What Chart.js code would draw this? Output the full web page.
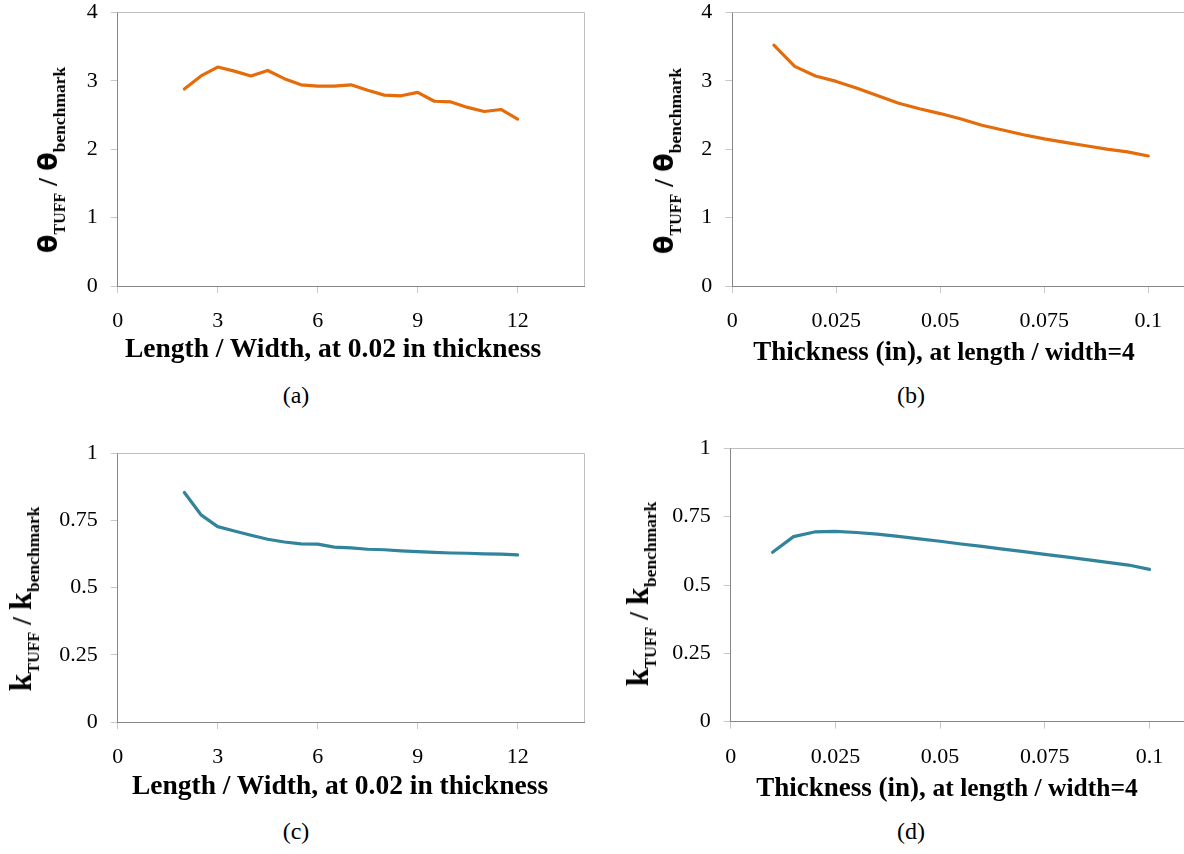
<!DOCTYPE html>
<html><head><meta charset="utf-8">
<script src="https://cdn.jsdelivr.net/npm/chart.js"></script>
<style>
html,body{margin:0;padding:0;width:1184px;height:854px;overflow:hidden;background:#fff;}
canvas{position:absolute;}
.t{position:absolute;white-space:nowrap;font-family:'Liberation Serif','Times New Roman',serif;color:#000;line-height:1;z-index:2;}
.xt{font-weight:bold;font-size:27.5px;transform:translateX(-50%);}
.xt .sm{font-size:25.5px;}
.cap{font-size:24px;transform:translateX(-50%);}
.yt{font-weight:bold;font-size:28px;line-height:30px;transform:translate(-50%,-50%) rotate(-90deg);}
.yt .g{font-family:'DejaVu Sans',sans-serif;font-size:27px;line-height:30px;}
.yt .k{font-size:32px;line-height:30px;}
.yt sub{vertical-align:baseline;position:relative;top:8px;line-height:30px;}
.yt sub.s1{font-size:16px;}
.yt sub.s2{font-size:17.5px;}
</style>
</head><body>
<canvas id="ca" width="600" height="345" style="left:0;top:0"></canvas>
<canvas id="cb" width="620" height="345" style="left:600px;top:0"></canvas>
<canvas id="cc" width="600" height="345" style="left:0;top:430px"></canvas>
<canvas id="cd" width="620" height="345" style="left:600px;top:430px"></canvas>

<div class="t yt" style="left:50px;top:160px"><span class="g">θ</span><sub class="s1">TUFF</sub> / <span class="g">θ</span><sub class="s2">benchmark</sub></div>
<div class="t yt" style="left:666px;top:161px"><span class="g">θ</span><sub class="s1">TUFF</sub> / <span class="g">θ</span><sub class="s2">benchmark</sub></div>
<div class="t yt" style="left:22.5px;top:599px"><span class="k">k</span><sub class="s1">TUFF</sub> / <span class="k">k</span><sub class="s2">benchmark</sub></div>
<div class="t yt" style="left:639.5px;top:594px"><span class="k">k</span><sub class="s1">TUFF</sub> / <span class="k">k</span><sub class="s2">benchmark</sub></div>

<div class="t xt" style="left:333px;top:334px">Length / Width, at 0.02 in thickness</div>
<div class="t xt" style="left:944px;top:338.4px;font-size:27px">Thickness (in), <span class="sm">at length / width=4</span></div>
<div class="t xt" style="left:340px;top:771px">Length / Width, at 0.02 in thickness</div>
<div class="t xt" style="left:947px;top:774.4px;font-size:27px">Thickness (in), <span class="sm">at length / width=4</span></div>

<div class="t cap" style="left:296px;top:383px">(a)</div>
<div class="t cap" style="left:911px;top:383px">(b)</div>
<div class="t cap" style="left:296px;top:819px">(c)</div>
<div class="t cap" style="left:911px;top:819px">(d)</div>

<script>
// ---- data ----
const lwA = [2,2.5,3,3.5,4,4.5,5,5.5,6,6.5,7,7.5,8,8.5,9,9.5,10,10.5,11,11.5,12];
const thetaA = [2.88,3.07,3.20,3.14,3.07,3.15,3.03,2.94,2.92,2.92,2.94,2.86,2.79,2.78,2.83,2.70,2.69,2.61,2.55,2.58,2.44];

const thickB = [0.01,0.015,0.02,0.025,0.03,0.035,0.04,0.045,0.05,0.055,0.06,0.065,0.07,0.075,0.08,0.085,0.09,0.095,0.1];
const thetaB = [3.52,3.21,3.07,2.99,2.89,2.78,2.67,2.59,2.52,2.44,2.35,2.28,2.21,2.15,2.10,2.05,2.00,1.96,1.90];

const lwC = [2,2.5,3,3.5,4,4.5,5,5.5,6,6.5,7,7.5,8,8.5,9,9.5,10,10.5,11,11.5,12];
const kC = [0.854,0.771,0.727,0.711,0.695,0.680,0.670,0.663,0.662,0.651,0.648,0.643,0.641,0.637,0.634,0.631,0.629,0.628,0.626,0.625,0.622];

const thickD = [0.01,0.015,0.02,0.025,0.03,0.035,0.04,0.045,0.05,0.055,0.06,0.065,0.07,0.075,0.08,0.085,0.09,0.095,0.1];
const kD = [0.620,0.677,0.694,0.696,0.692,0.686,0.678,0.669,0.660,0.650,0.641,0.631,0.622,0.612,0.603,0.593,0.583,0.573,0.557];

const xTicksLW = [0,3,6,9,12];
const xLabelsLW = ['0','3','6','9','12'];
const xTicksTh = [0,0.025,0.05,0.075,0.1];
const xLabelsTh = ['0','0.025','0.05','0.075','0.1'];
const yTicksTheta = [0,1,2,3,4];
const yLabelsTheta = ['0','1','2','3','4'];
const yTicksK = [0,0.25,0.5,0.75,1];
const yLabelsK = ['0','0.25','0.5','0.75','1'];

const ORANGE = '#E46C0A';
const TEAL = '#31849B';

// ---- plot frame (top and right border) ----
const frame = {
  id: 'frame',
  beforeDatasetsDraw(chart) {
    const {ctx, chartArea: a} = chart;
    const t = Math.floor(a.top) + 0.5;
    const r = Math.floor(a.right) + 0.5;
    ctx.save();
    ctx.strokeStyle = '#bfbfbf';
    ctx.lineWidth = 1;
    ctx.beginPath();
    ctx.moveTo(a.left, t);
    ctx.lineTo(r, t);
    ctx.lineTo(r, a.bottom);
    ctx.stroke();
    ctx.restore();
  }
};

function makeChart(id, xs, ys, color, xr, yr, box) {
  const tickFont = {family: "'Liberation Serif', 'Times New Roman', serif", size: 22};
  return new Chart(document.getElementById(id).getContext('2d'), {
    type: 'line',
    data: {
      datasets: [{
        data: xs.map((x, i) => ({x: x, y: ys[i]})),
        borderColor: color,
        borderWidth: 3.2,
        pointRadius: 0,
        tension: 0,
        fill: false,
        borderJoinStyle: 'round',
        borderCapStyle: 'round'
      }]
    },
    options: {
      responsive: false,
      animation: false,
      devicePixelRatio: 1,
      layout: {padding: {top: box.top, right: box.w - box.right, left: 0, bottom: 0}},
      plugins: {legend: {display: false}, tooltip: {enabled: false}},
      scales: {
        x: {
          type: 'linear', min: xr.min, max: xr.max,
          afterBuildTicks: s => { s.ticks = xr.ticks.map(v => ({value: v})); },
          afterFit: s => { s.height = box.h - box.bottom; s.paddingLeft = 0; s.paddingRight = 0; },
          ticks: {callback: (v, i) => xr.labels[i], autoSkip: false, maxRotation: 0, minRotation: 0, padding: 15, color: '#000', font: tickFont},
          grid: {drawOnChartArea: false, drawTicks: true, tickLength: 7, color: '#c8c8c8'},
          border: {display: true, color: '#868686', width: 1}
        },
        y: {
          type: 'linear', min: yr.min, max: yr.max,
          afterBuildTicks: s => { s.ticks = yr.ticks.map(v => ({value: v})); },
          afterFit: s => { s.width = box.left; s.paddingTop = 0; s.paddingBottom = 0; },
          ticks: {callback: (v, i) => yr.labels[i], autoSkip: false, padding: 13, color: '#000', font: tickFont},
          grid: {drawOnChartArea: false, drawTicks: true, tickLength: 7, color: '#c8c8c8'},
          border: {display: true, color: '#868686', width: 1}
        }
      }
    },
    plugins: [frame]
  });
}

const xLW = {min: 0, max: 14, ticks: xTicksLW, labels: xLabelsLW};
const xTh = {min: 0, max: 0.1125, ticks: xTicksTh, labels: xLabelsTh};
const yTheta = {min: 0, max: 4, ticks: yTicksTheta, labels: yLabelsTheta};
const yK = {min: 0, max: 1, ticks: yTicksK, labels: yLabelsK};

makeChart('ca', lwA, thetaA, ORANGE, xLW, yTheta, {w: 600, h: 345, left: 117.7, top: 12.3, right: 584.3, bottom: 286});
makeChart('cb', thickB, thetaB, ORANGE, xTh, yTheta, {w: 620, h: 345, left: 132.3, top: 12.3, right: 600.3, bottom: 286});
makeChart('cc', lwC, kC, TEAL, xLW, yK, {w: 600, h: 345, left: 117.7, top: 23.3, right: 584.3, bottom: 292});
makeChart('cd', thickD, kD, TEAL, xTh, yK, {w: 620, h: 345, left: 130.7, top: 18.3, right: 601.9, bottom: 291.7});
</script>
</body></html>
